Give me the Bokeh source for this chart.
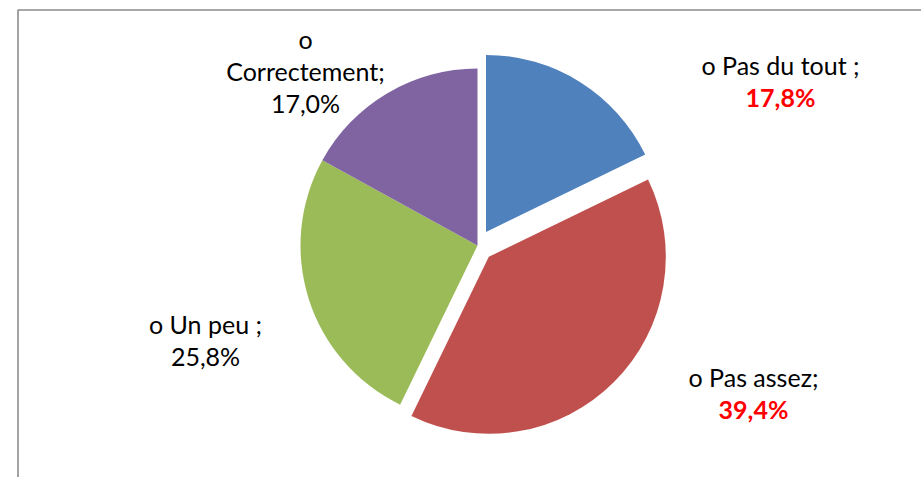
import math
from bokeh.plotting import figure
from bokeh.models import Range1d, ColumnDataSource
from bokeh.core.properties import value
from bokeh.embed import file_html
from bokeh.resources import INLINE

# ---- data ----
categories = ["Pas du tout", "Pas assez", "Un peu", "Correctement"]
values = [17.8, 39.4, 25.8, 17.0]
label_heads = [["o Pas du tout ;"], ["o Pas assez;"], ["o Un peu ;"], ["o", "Correctement;"]]
highlight = [True, True, False, False]   # percentage shown bold red
colors = ["#4F81BD", "#C0504D", "#9BBB59", "#8064A2"]
explode = [16, 16, 0, 0]

# ---- layout ----
W, H = 921, 477
cx, cy, R = 477, 232, 177
FONT = "Lato"
FS = 25
LINE = 32
# anchor of the last (percentage) line of each label, in plot units
label_anchor = [(780, 381), (753, 69), (205, 122), (305, 375)]

p = figure(width=W, height=H, output_backend="svg", toolbar_location=None,
           x_range=Range1d(0, W), y_range=Range1d(0, H), min_border=0)
p.axis.visible = False
p.grid.visible = False
p.outline_line_color = None
p.background_fill_color = "white"
p.border_fill_color = "white"

# chart-area frame (only left and top edges are inside the picture)
p.quad(left=[17.5], right=[W + 50], top=[H - 9.5], bottom=[-50],
       fill_color=None, line_color="#8C8C8C", line_width=1.6)

total = sum(values)
starts, ends, xs, ys = [], [], [], []
cum = 0.0
for v, d in zip(values, explode):
    a0 = math.pi / 2 - 2 * math.pi * cum / total
    cum += v
    a1 = math.pi / 2 - 2 * math.pi * cum / total
    mid = (a0 + a1) / 2
    starts.append(a0)
    ends.append(a1)
    xs.append(cx + d * math.cos(mid))
    ys.append(cy + d * math.sin(mid))

src = ColumnDataSource(dict(x=xs, y=ys, start=starts, end=ends, color=colors))
p.wedge(x="x", y="y", radius=R, start_angle="start", end_angle="end",
        direction="clock", fill_color="color", line_color=None, source=src)

for heads, v, hi, (ax, ay) in zip(label_heads, values, highlight, label_anchor):
    pct = f"{v:.1f}%".replace(".", ",")
    n = len(heads)
    for i, t in enumerate(heads):
        p.text(x=[ax], y=[ay + (n - i) * LINE], text=[t], text_font=value(FONT),
               text_font_size=f"{FS}px", text_align="center", text_baseline="middle",
               text_color="black")
    p.text(x=[ax], y=[ay], text=[pct], text_font=value(FONT),
           text_font_size=f"{FS}px", text_align="center", text_baseline="middle",
           text_color="#FF0000" if hi else "black",
           text_font_style="bold" if hi else "normal")

open("out.html", "w").write(file_html(p, INLINE))
